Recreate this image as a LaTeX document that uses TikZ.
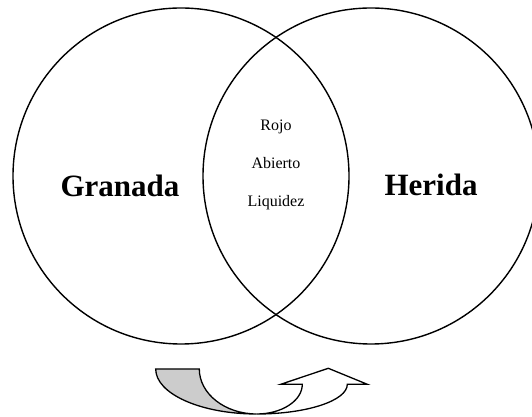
\documentclass[tikz,border=0pt]{standalone}
\usepackage{fontspec}
\setmainfont{Liberation Serif}
\begin{document}
\begin{tikzpicture}[x=1pt,y=1pt,
  setcircle/.style={circle, draw=black, line width=1.4pt, minimum size=336pt, inner sep=0pt},
  bigword/.style={anchor=base, font=\fontsize{31}{31}\selectfont\bfseries, inner sep=0pt},
  smallword/.style={anchor=base, font=\fontsize{16}{16}\selectfont, inner sep=0pt},
  arrowpart/.style={draw=black, line width=1.3pt, line join=miter}]
\useasboundingbox (0,0) rectangle (532,417);
\node[setcircle] (left) at (181,241) {};
\node[setcircle] (right) at (371,241) {};
\node[bigword] (granada) at (120,220) {Granada};
\node[bigword] (herida) at (431,221) {Herida};
\node[smallword] (rojo) at (276,286.5) {Rojo};
\node[smallword] (abierto) at (276,248.5) {Abierto};
\node[smallword] (liquidez) at (276,210.5) {Liquidez};
% gray back part of curved arrow
\draw[arrowpart, fill=gray!40] (155.7,48) -- (199.3,48)
  arc[start angle=180, end angle=270, x radius=57.4, y radius=45]
  arc[start angle=270, end angle=180, x radius=101, y radius=45] -- cycle;
% white front part with head
\draw[arrowpart, fill=white] (256.7,3)
  arc[start angle=270, end angle=360, x radius=90.6, y radius=29.7]
  -- (367.3,32.7) -- (328.3,48.7) -- (280.7,32.7) -- (302.3,32.7)
  arc[start angle=0, end angle=-90, x radius=45.6, y radius=29.7] -- cycle;
\end{tikzpicture}
\end{document}
